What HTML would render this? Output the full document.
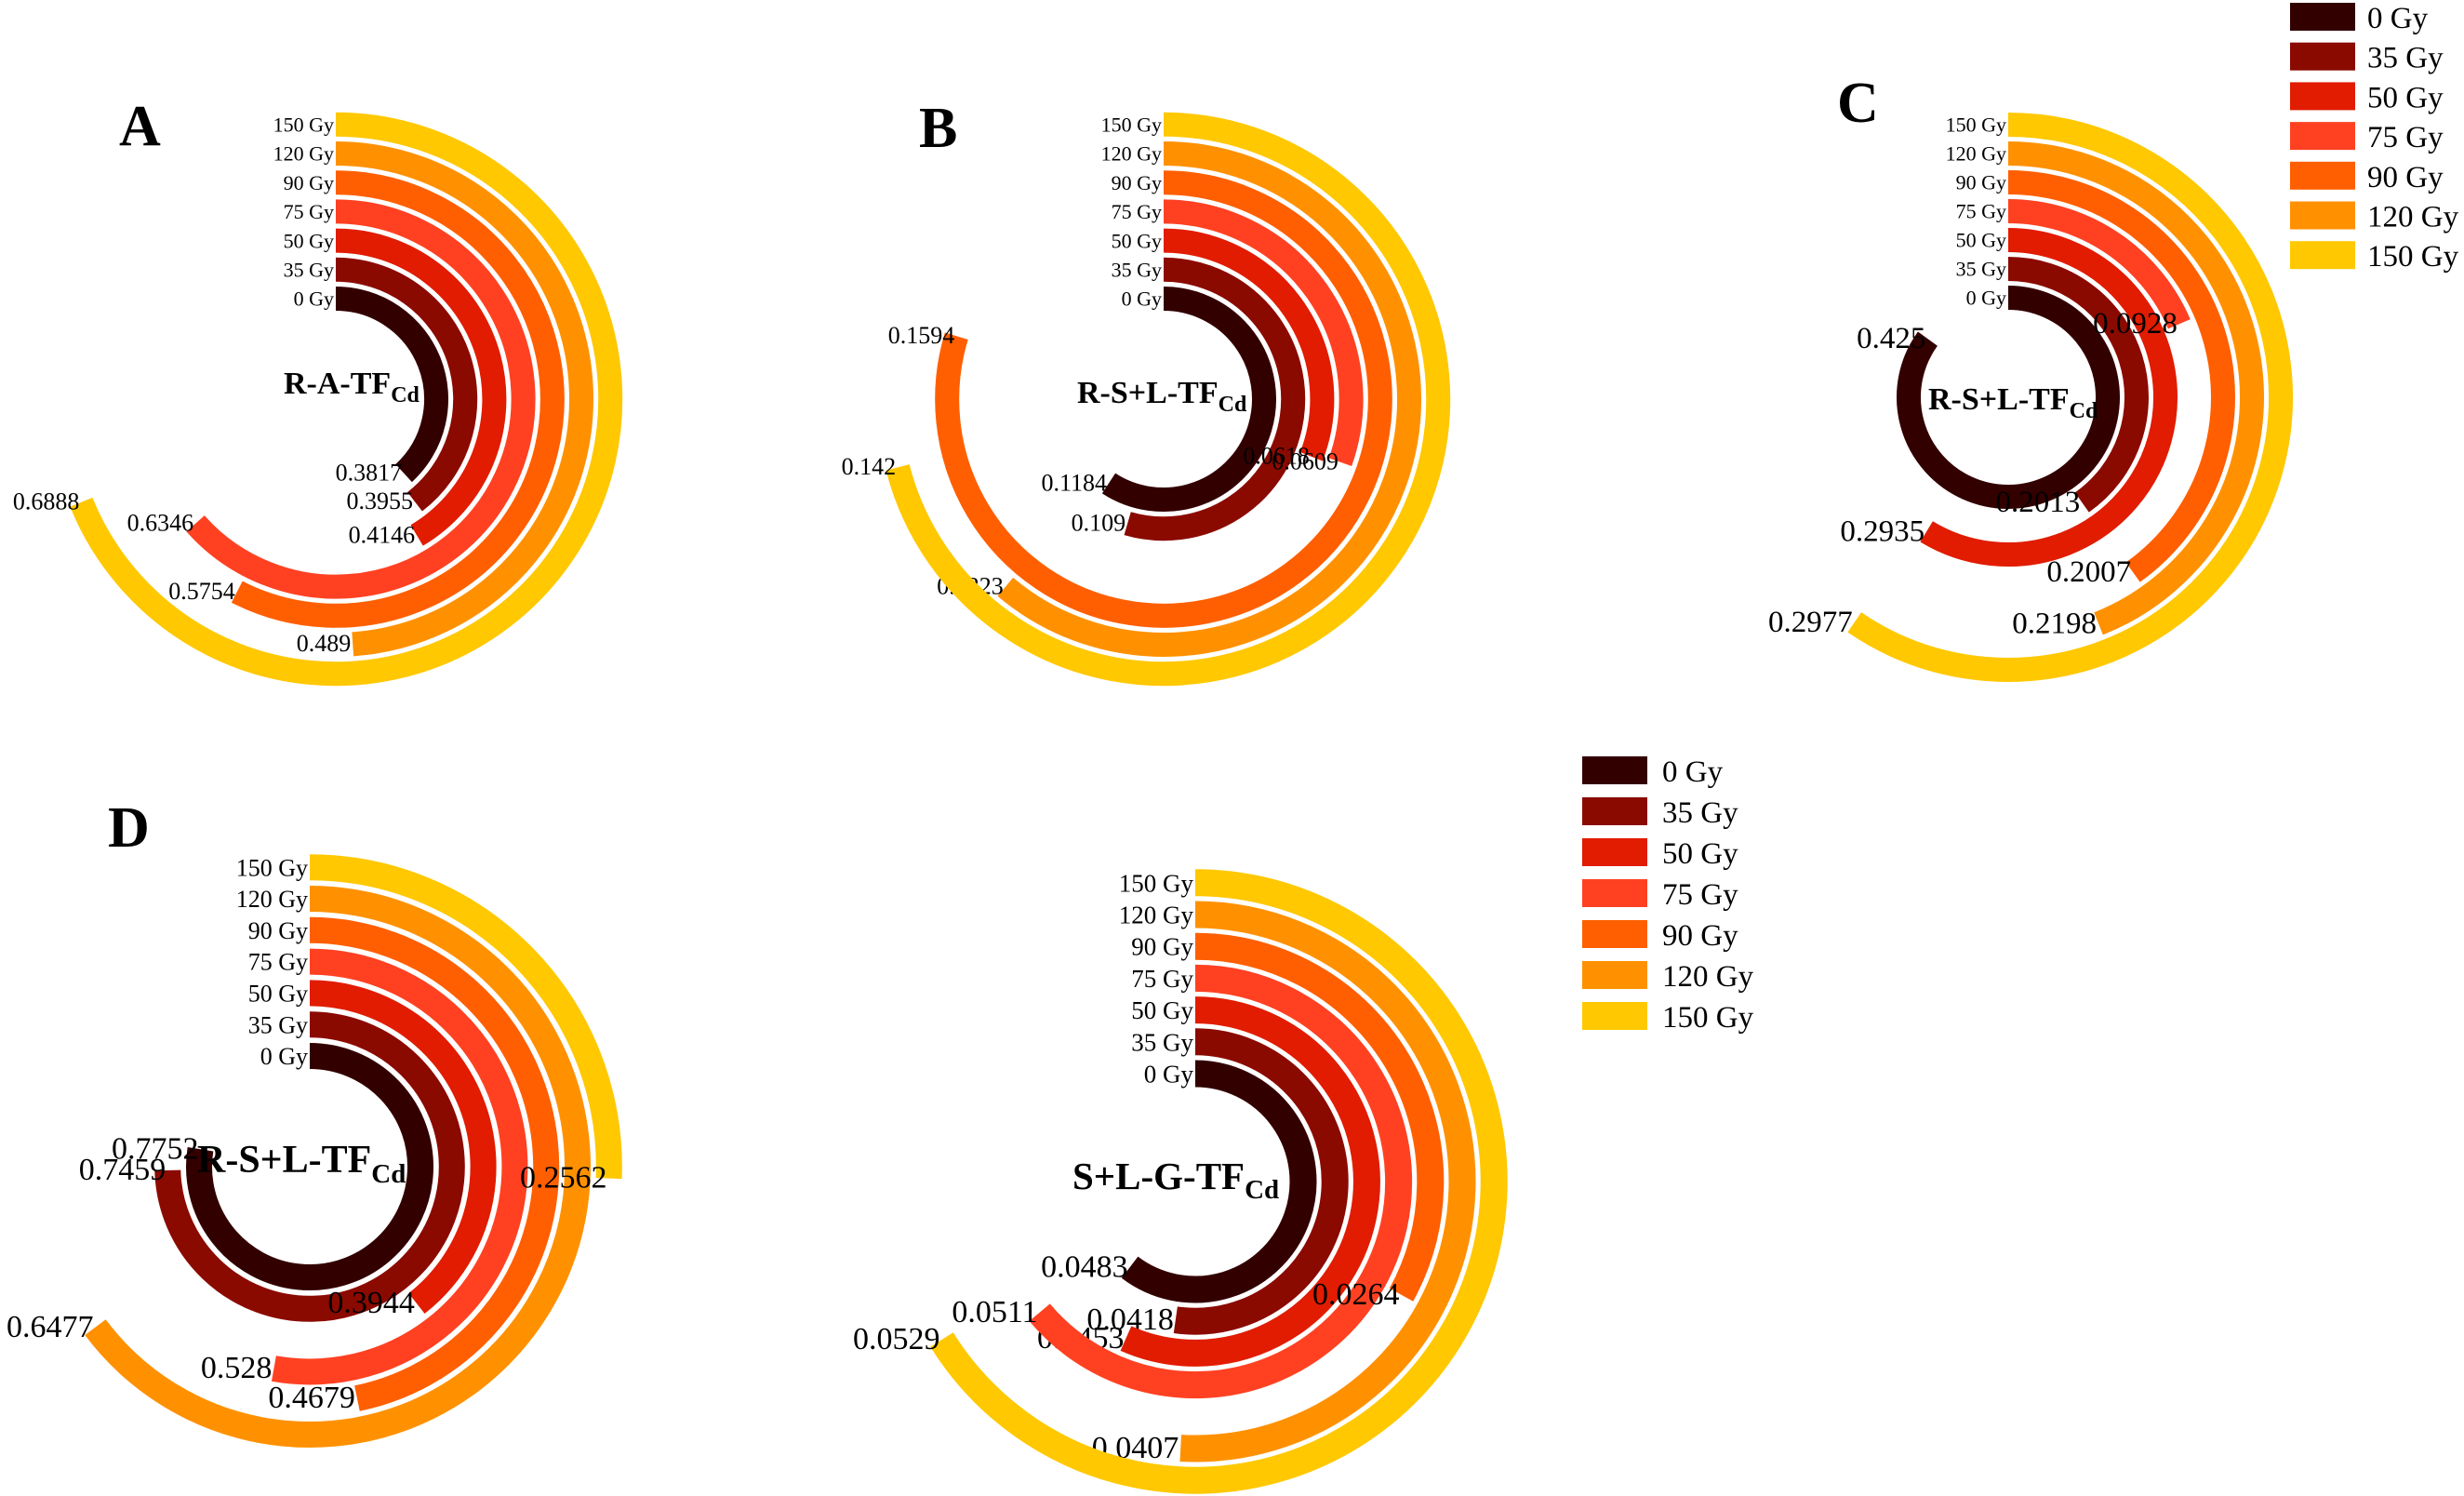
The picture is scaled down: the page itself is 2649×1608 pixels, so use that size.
<!DOCTYPE html>
<html><head><meta charset="utf-8">
<style>
html,body{margin:0;padding:0;background:#fff;}
svg{display:block;font-family:"Liberation Serif","Times New Roman",serif;}
</style></head>
<body>
<svg id="fig" xmlns="http://www.w3.org/2000/svg" width="2649" height="1608" viewBox="0 0 2649 1608">
<rect width="2649" height="1608" fill="#fff"/>
</svg>
<script>
const doses = ["0 Gy","35 Gy","50 Gy","75 Gy","90 Gy","120 Gy","150 Gy"];
const colors = ["#330000","#8b0a00","#e11c00","#ff4122","#ff5f00","#ff9100","#ffc800"];
const valuesA = [0.3817,0.3955,0.4146,0.6346,0.5754,0.489,0.6888];
const valuesB = [0.1184,0.109,0.0618,0.0609,0.1594,0.1223,0.142];
const valuesC = [0.425,0.2013,0.2935,0.0928,0.2007,0.2198,0.2977];
const valuesD = [0.7752,0.7459,0.3944,0.528,0.4679,0.6477,0.2562];
const valuesE = [0.0483,0.0418,0.0453,0.0511,0.0264,0.0407,0.0529];
const maxA = 1, maxB = 0.2, maxC = 0.5, maxD = 1, maxE = 0.08;

const NS = "http://www.w3.org/2000/svg";
const svg = document.getElementById("fig");
function mk(tag, attrs, parent){
  const e = document.createElementNS(NS, tag);
  for (const k in attrs) e.setAttribute(k, attrs[k]);
  (parent||svg).appendChild(e);
  return e;
}

function drawChart(id, letter, title, values, maxV, g){
  const grp = mk("g", {});
  
  
  const angle = v => v / maxV * 2 * Math.PI;
  values.forEach((v, i) => {
    const r = g.r0 + i * g.dr;
    const a = Math.min(angle(v), 2*Math.PI - 0.0001);
    const x0 = g.cx, y0 = g.cy - r;
    const x1 = g.cx + r * Math.sin(a), y1 = g.cy - r * Math.cos(a);
    const large = a > Math.PI ? 1 : 0;
    const p = mk("path", {d:`M${x0},${y0} A${r},${r} 0 ${large} 1 ${x1},${y1}`, fill:"none", stroke:colors[i], "stroke-width":g.sw}, grp);
    
    
    const gl = mk("text", {x:g.cx - 2, y:y0 + g.gyF*0.35, "font-size":g.gyF, "text-anchor":"end", fill:"#000"}, grp);
    gl.textContent = doses[i];
    
    
    const vl = mk("text", {x:x1 - 2, y:y1 + g.valF*0.3, "font-size":g.valF, "text-anchor":"end", fill:"#000"}, grp);
    vl.textContent = String(v);
    
    
  });
  const t = mk("text", {x:g.tx, y:g.ty, "font-size":g.tF, "font-weight":"bold", fill:"#000"}, grp);
  t.textContent = title;
  const sub = mk("tspan", {"font-size":Math.round(g.tF*0.7), dy:Math.round(g.tF*0.25)}, t);
  sub.textContent = "Cd";
  
  
  if (letter){
    const L = mk("text", {x:g.lx, y:g.ly, "font-size":g.lF, "font-weight":"bold", fill:"#000"}, grp);
    L.textContent = letter;
    
    
  }
}

drawChart("a","A","R-A-TF",valuesA,maxA,{cx:361,cy:429,r0:108,dr:31.2,sw:26,gyF:22,valF:26,tF:34,tx:305,ty:423,lx:128,ly:156,lF:62});
drawChart("b","B","R-S+L-TF",valuesB,maxB,{cx:1251,cy:429,r0:108,dr:31.2,sw:26,gyF:22,valF:26,tF:34,tx:1158,ty:433,lx:988,ly:158,lF:62});
drawChart("c","C","R-S+L-TF",valuesC,maxC,{cx:2159,cy:427,r0:107,dr:31,sw:26,gyF:22,valF:33,tF:34,tx:2073,ty:440,lx:1975,ly:131,lF:62});
drawChart("d","D","R-S+L-TF",valuesD,maxD,{cx:333,cy:1254,r0:119,dr:33.8,sw:28,gyF:26,valF:34,tF:42,tx:212,ty:1260,lx:116,ly:910,lF:62});
drawChart("e","","S+L-G-TF",valuesE,maxE,{cx:1285,cy:1270,r0:116,dr:34.2,sw:29,gyF:27,valF:34,tF:41,tx:1153,ty:1278,lx:0,ly:0,lF:0});

function legend(id, x, y, pitch, tx){
  const lg = mk("g", {});
  
  
  doses.forEach((d, i) => {
    const r = mk("rect", {x:x, y:y + i*pitch, width:70, height:30, fill:colors[i]}, lg);
    
    
    const t = mk("text", {x:tx, y:y + i*pitch + 27, "font-size":33, fill:"#000"}, lg);
    t.textContent = d;
    
    
  });
}
legend("top", 2462, 3, 42.7, 2545);
legend("bottom", 1701, 813, 44, 1787);
</script>
</body></html>
